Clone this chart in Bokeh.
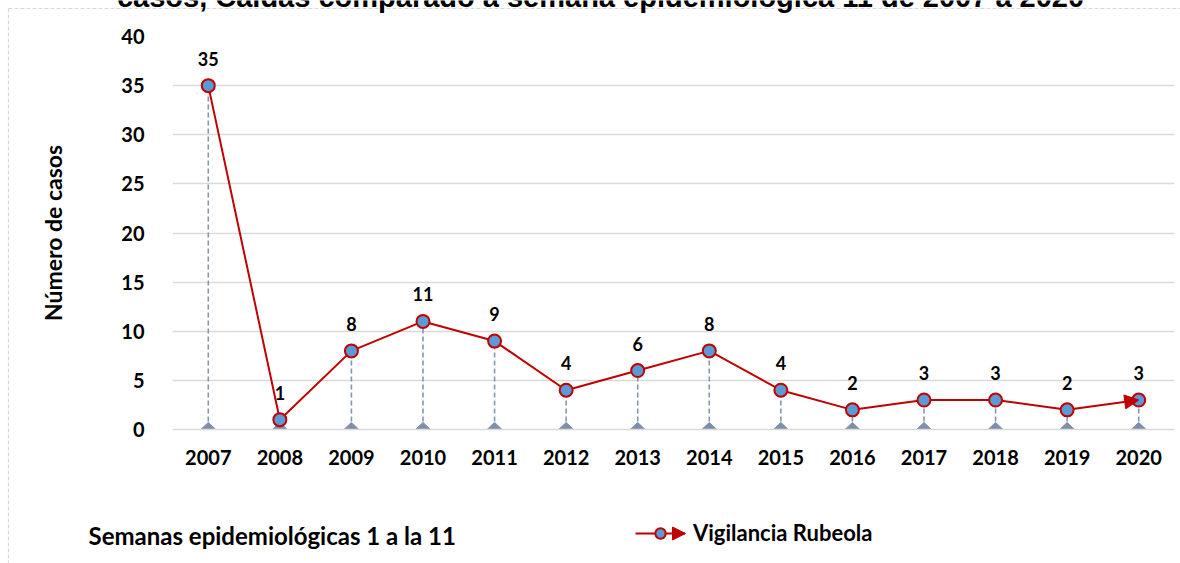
import numpy as np
from bokeh.plotting import figure
from bokeh.models import (Range1d, FixedTicker, Label, Legend, LegendItem,
                          Arrow, NormalHead)
from bokeh.core.properties import value
from bokeh.embed import file_html
from bokeh.resources import INLINE

# ---- data ----
years = ["2007", "2008", "2009", "2010", "2011", "2012", "2013",
         "2014", "2015", "2016", "2017", "2018", "2019", "2020"]
casos = [35, 1, 8, 11, 9, 4, 6, 8, 4, 2, 3, 3, 2, 3]
y_ticks = [0, 5, 10, 15, 20, 25, 30, 35, 40]
title_text = "casos, Caldas comparado a semana epidemiológica 11 de 2007 a 2020"
y_title = "Número de casos"
bottom_note = "Semanas epidemiológicas 1 a la 11"
series_name = "Vigilancia Rubeola"

idx = list(range(len(years)))

# ---- layout constants ----
W, H = 1180, 563
FL, FR, FT, FB = 172, 6, 36, 134   # frame borders
FONT = "Lato"
RED = "#C00000"
BLUE = "#5B9BD5"
GRAYBLUE = "#8497B0"
GRID = "#D9D9D9"
ABS = {"position": "absolute", "left": "0px", "top": "0px"}

# ================= background figure (chart-area decorations) =================
bg = figure(width=W, height=H, output_backend="svg", toolbar_location=None,
            x_range=Range1d(0, W), y_range=Range1d(H, 0),
            min_border=0, styles=ABS)
bg.axis.visible = False
bg.grid.visible = False
bg.outline_line_color = None
bg.background_fill_color = "white"
bg.border_fill_color = "white"

# dashed chart border (top and left edges visible)
bg.line(x=[8, W], y=[8, 8], line_color=GRID, line_width=1.2, line_dash="4 2")
bg.line(x=[8, 8], y=[8, H], line_color=GRID, line_width=1.2, line_dash="4 2")

# clipped title (only its lower part shows)
bg.add_layout(Label(x=600, y=H + 4, x_units="screen", y_units="screen", text=title_text,
                    text_align="center", text_baseline="alphabetic",
                    text_font="Liberation Sans", text_font_style="bold",
                    text_font_size="29px", text_color="#000000"))

# bottom note
bg.add_layout(Label(x=88, y=H - 535, x_units="screen", y_units="screen", text=bottom_note,
                    text_align="left", text_baseline="middle",
                    text_font=FONT, text_font_style="bold",
                    text_font_size="24px", text_color="#000000"))

# legend (proxy renderers sit far outside the visible range)
lg_line = bg.line(x=[-500, -400], y=[-500, -500], line_color=RED, line_width=2)
lg_pts = bg.scatter(x=[-500], y=[-500], size=13, fill_color=BLUE, line_color=RED, line_width=2)
legend = Legend(items=[LegendItem(label=series_name, renderers=[lg_line, lg_pts])],
                location=(635, H - 546), padding=0, margin=0, spacing=0,
                glyph_width=50, glyph_height=26, label_height=26, label_standoff=8,
                border_line_alpha=0, background_fill_alpha=0,
                label_text_font=FONT, label_text_font_style="bold",
                label_text_font_size="22px", label_text_color="#000000")
bg.add_layout(legend, "center")
bg.add_layout(Arrow(end=NormalHead(size=13, fill_color=RED, line_color=RED),
                    x_start=662, y_start=H - 533, x_end=685, y_end=H - 533,
                    start_units="screen", end_units="screen", line_alpha=0))

# ================= main chart =================
p = figure(width=W, height=H, output_backend="svg", toolbar_location=None,
           x_range=Range1d(-0.5, len(years) - 0.5), y_range=Range1d(0, 40),
           min_border_left=FL, min_border_right=FR, min_border_top=FT, min_border_bottom=FB,
           styles=ABS)
p.outline_line_color = None
p.background_fill_alpha = 0
p.border_fill_alpha = 0

# axes
p.xaxis.ticker = FixedTicker(ticks=idx)
p.xaxis.major_label_overrides = {i: y for i, y in zip(idx, years)}
p.yaxis.ticker = FixedTicker(ticks=y_ticks)
for ax in (p.xaxis, p.yaxis):
    ax.major_tick_line_color = None
    ax.minor_tick_line_color = None
    ax.major_label_text_font = FONT
    ax.major_label_text_font_style = "bold"
    ax.major_label_text_font_size = "20px"
    ax.major_label_text_color = "#000000"
p.xaxis.axis_line_color = GRID
p.xaxis.axis_line_width = 1.5
p.xaxis.major_label_standoff = 14
p.yaxis.axis_line_color = None
p.yaxis.major_label_standoff = 22
p.yaxis.axis_label = y_title
p.yaxis.axis_label_text_font = FONT
p.yaxis.axis_label_text_font_style = "bold"
p.yaxis.axis_label_text_font_size = "23px"
p.yaxis.axis_label_text_color = "#000000"
p.yaxis.axis_label_standoff = 51

p.xgrid.grid_line_color = None
p.ygrid.grid_line_color = GRID
p.ygrid.grid_line_width = 1.5

# drop lines
p.segment(x0=idx, y0=[0] * len(idx), x1=idx, y1=casos, line_color=GRAYBLUE,
          line_width=1.6, line_dash="5 3")
# base triangles
TRI_HW, TRI_H = 0.105, 0.72
p.patches(xs=[[i - TRI_HW, i + TRI_HW, i] for i in idx],
          ys=[[0, 0, TRI_H] for _ in idx], fill_color="#7F8FA9", line_color="#7F8FA9")

# main line with arrow on last segment
line_r = p.line(idx, casos, line_color=RED, line_width=2)
p.add_layout(Arrow(end=NormalHead(size=14, fill_color=RED, line_color=RED),
                   x_start=idx[-2], y_start=casos[-2], x_end=idx[-1], y_end=casos[-1],
                   line_alpha=0))
pts_r = p.scatter(idx, casos, size=13, fill_color=BLUE, line_color=RED, line_width=2)

# data labels
p.text(x=idx, y=casos, text=[str(c) for c in casos], y_offset=-27,
       text_align="center", text_baseline="middle", text_font=value(FONT),
       text_font_style="bold", text_font_size="18px", text_color="#000000")

open("out.html", "w").write(file_html([bg, p], INLINE))
